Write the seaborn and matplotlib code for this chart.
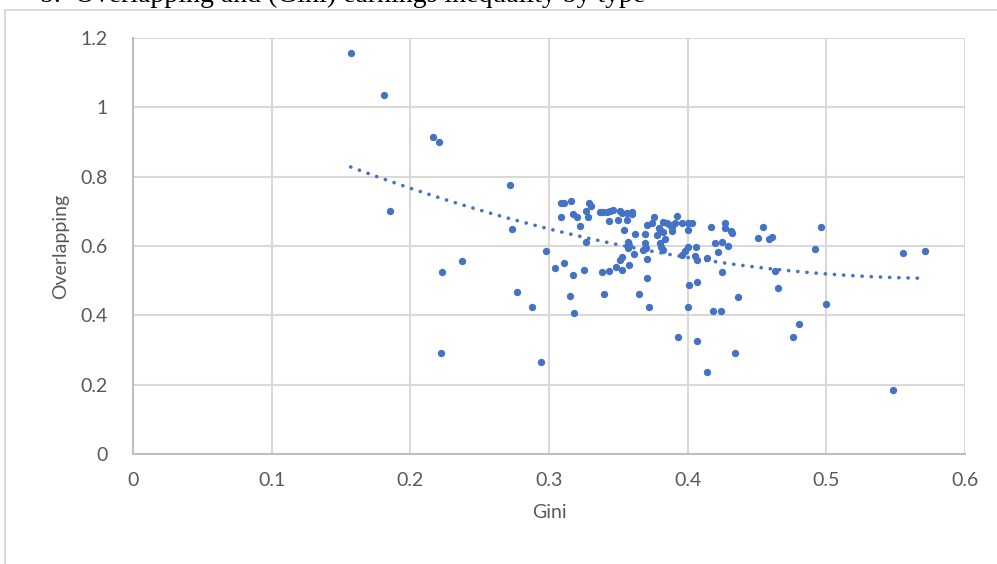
import matplotlib
matplotlib.use("Agg")
import matplotlib.pyplot as plt
import seaborn as sns
import pandas as pd
from matplotlib.ticker import FuncFormatter
from matplotlib.patches import Rectangle

gini = [0.157, 0.181, 0.185, 0.216, 0.221, 0.223, 0.222, 0.237, 0.272, 0.273,
        0.277, 0.288, 0.294, 0.298, 0.304, 0.311, 0.309, 0.311, 0.316, 0.309,
        0.317, 0.320, 0.322, 0.327, 0.329, 0.330, 0.328, 0.327, 0.337, 0.339,
        0.342, 0.344, 0.346, 0.343, 0.350, 0.351, 0.353, 0.356, 0.360, 0.360,
        0.356, 0.354, 0.362, 0.369, 0.376, 0.371, 0.374, 0.382, 0.385, 0.387,
        0.389, 0.391, 0.392, 0.379, 0.380, 0.378, 0.382, 0.384, 0.389, 0.396,
        0.400, 0.403, 0.400, 0.417, 0.427, 0.427, 0.431, 0.432, 0.357, 0.358,
        0.357, 0.361, 0.369, 0.370, 0.368, 0.380, 0.381, 0.382, 0.371, 0.353,
        0.351, 0.348, 0.343, 0.338, 0.353, 0.358, 0.325, 0.317, 0.371, 0.396,
        0.400, 0.406, 0.405, 0.407, 0.414, 0.398, 0.401, 0.407, 0.420, 0.425,
        0.422, 0.429, 0.425, 0.315, 0.318, 0.340, 0.365, 0.372, 0.400, 0.418,
        0.424, 0.436, 0.393, 0.407, 0.434, 0.414, 0.454, 0.451, 0.459, 0.461,
        0.496, 0.492, 0.463, 0.465, 0.500, 0.480, 0.476, 0.555, 0.571, 0.548]
overlapping = [1.157, 1.035, 0.701, 0.915, 0.900, 0.524, 0.291, 0.557, 0.776, 0.649,
               0.467, 0.424, 0.265, 0.585, 0.536, 0.551, 0.724, 0.724, 0.730, 0.684,
               0.692, 0.684, 0.658, 0.701, 0.724, 0.715, 0.684, 0.612, 0.698, 0.698,
               0.698, 0.701, 0.704, 0.672, 0.675, 0.701, 0.695, 0.695, 0.698, 0.692,
               0.675, 0.646, 0.635, 0.635, 0.684, 0.660, 0.666, 0.669, 0.666, 0.660,
               0.655, 0.666, 0.686, 0.652, 0.646, 0.632, 0.640, 0.620, 0.643, 0.666,
               0.666, 0.666, 0.646, 0.655, 0.666, 0.652, 0.643, 0.637, 0.611, 0.603,
               0.594, 0.577, 0.609, 0.594, 0.588, 0.609, 0.597, 0.588, 0.562, 0.568,
               0.560, 0.539, 0.528, 0.525, 0.531, 0.545, 0.531, 0.516, 0.508, 0.574,
               0.597, 0.597, 0.571, 0.560, 0.565, 0.585, 0.487, 0.496, 0.609, 0.611,
               0.583, 0.600, 0.525, 0.456, 0.406, 0.461, 0.461, 0.424, 0.424, 0.413,
               0.413, 0.453, 0.337, 0.326, 0.291, 0.236, 0.655, 0.623, 0.620, 0.626,
               0.655, 0.591, 0.528, 0.479, 0.433, 0.375, 0.337, 0.580, 0.586, 0.185]

x_ticks = [0, 0.1, 0.2, 0.3, 0.4, 0.5, 0.6]
y_ticks = [0, 0.2, 0.4, 0.6, 0.8, 1.0, 1.2]
title = "b.  Overlapping and (Gini) earnings inequality by type"

df = pd.DataFrame({"Gini": gini, "Overlapping": overlapping})

sns.set_style("white")
plt.rcParams["font.family"] = ["Lato", "DejaVu Sans"]

BLUE = "#4472C4"
GRID = "#d9d9d9"
TXT = "#595959"

fig = plt.figure(figsize=(9.97, 5.64), dpi=100)
ax = fig.add_axes([133 / 997, 1 - 454 / 564, (965 - 133) / 997, (454 - 38) / 564])

sns.scatterplot(data=df, x="Gini", y="Overlapping", ax=ax, color=BLUE,
                s=28, linewidth=0, zorder=3)
sns.regplot(data=df, x="Gini", y="Overlapping", ax=ax, order=2, ci=None,
            scatter=False, color=BLUE,
            line_kws=dict(lw=2.6, ls=(0, (0.05, 2.5)), dash_capstyle="round",
                          solid_capstyle="round", zorder=4))

ax.set_xlim(0, 0.6)
ax.set_ylim(0, 1.2)
ax.set_xticks(x_ticks)
ax.set_yticks(y_ticks)
ax.xaxis.set_major_formatter(FuncFormatter(lambda v, p: f"{v:g}"))
ax.yaxis.set_major_formatter(FuncFormatter(lambda v, p: f"{v:g}"))
ax.grid(True, color=GRID, lw=1.5, zorder=0)
ax.set_axisbelow(True)
for side in ["top", "right"]:
    ax.spines[side].set_visible(False)
for side in ["left", "bottom"]:
    ax.spines[side].set_color("#bfbfbf")
    ax.spines[side].set_linewidth(1.5)
ax.tick_params(axis="both", length=0, labelsize=14, labelcolor=TXT)
ax.tick_params(axis="x", pad=13)
ax.tick_params(axis="y", pad=18)
ax.set_xlabel("Gini", fontsize=14, color=TXT, labelpad=11)
ax.set_ylabel("Overlapping", fontsize=14, color=TXT, labelpad=8)

# outer chart border
fig.add_artist(Rectangle((5 / 997, -0.05), 1.1, 1 - 10 / 564 + 0.05,
                         transform=fig.transFigure, fill=False,
                         edgecolor="#d9d9d9", lw=1.5))

# caption above the chart (clipped by the top edge, as in the reference)
fig.text(40 / 997, 1 - 2 / 564, title, family=["Liberation Serif"],
         fontsize=20, color="black", va="baseline", ha="left")

fig.savefig("out.png", dpi=100)
